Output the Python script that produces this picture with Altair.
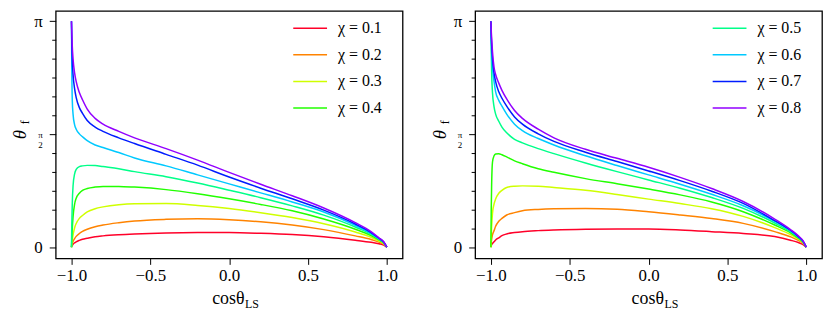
import math
import altair as alt
import pandas as pd

PI = math.pi

# cos(theta_LS) sample positions
cos_grid = [-1.0, -0.998, -0.995, -0.99, -0.98, -0.97, -0.95, -0.93, -0.9, -0.85, -0.8, -0.7,
            -0.6, -0.4, -0.2, 0.0, 0.2, 0.4, 0.6, 0.8, 0.9, 0.95, 0.98, 1.0]

chi_labels = ["χ = 0.1", "χ = 0.2", "χ = 0.3", "χ = 0.4",
              "χ = 0.5", "χ = 0.6", "χ = 0.7", "χ = 0.8"]
colors = ["#ff0029", "#ff8300", "#cfff00", "#22ff00",
          "#00ff89", "#00c9ff", "#001cff", "#9200ff"]

# Left panel: theta_f values (radians)
left_01 = [0, 0.015, 0.025, 0.04, 0.06, 0.075, 0.095, 0.11, 0.124, 0.145, 0.157, 0.173,
           0.184, 0.198, 0.203, 0.203, 0.193, 0.176, 0.145, 0.097, 0.068, 0.048, 0.03, 0]
left_02 = [0, 0.03, 0.05, 0.08, 0.12, 0.15, 0.19, 0.22, 0.25, 0.285, 0.308, 0.34,
           0.364, 0.387, 0.395, 0.382, 0.353, 0.308, 0.244, 0.157, 0.107, 0.07, 0.042, 0]
left_03 = [0, 0.05, 0.1, 0.17, 0.27, 0.33, 0.40, 0.44, 0.49, 0.535, 0.56, 0.59,
           0.603, 0.606, 0.58, 0.537, 0.479, 0.412, 0.327, 0.212, 0.138, 0.086, 0.05, 0]
left_04 = [0, 0.1, 0.25, 0.42, 0.6, 0.68, 0.75, 0.79, 0.815, 0.835, 0.845, 0.845,
           0.835, 0.80, 0.742, 0.672, 0.594, 0.505, 0.391, 0.249, 0.161, 0.10, 0.06, 0]
left_05 = [0, 0.3, 0.6, 0.85, 1.02, 1.08, 1.12, 1.13, 1.137, 1.135, 1.12, 1.09,
           1.05, 0.98, 0.892, 0.792, 0.688, 0.574, 0.446, 0.281, 0.180, 0.11, 0.065, 0]
left_06 = [3.1416, 2.5, 2.05, 1.85, 1.70, 1.64, 1.575, 1.535, 1.48, 1.42, 1.385, 1.315,
           1.24, 1.13, 1.005, 0.88, 0.755, 0.628, 0.488, 0.304, 0.193, 0.118, 0.07, 0]
left_07 = [3.1416, 2.85, 2.6, 2.4, 2.2, 2.08, 1.94, 1.86, 1.76, 1.67, 1.61, 1.52,
           1.44, 1.29, 1.14, 0.975, 0.82, 0.672, 0.515, 0.322, 0.203, 0.124, 0.072, 0]
left_08 = [3.1416, 3.0, 2.8, 2.62, 2.42, 2.3, 2.15, 2.05, 1.92, 1.79, 1.71, 1.61,
           1.52, 1.37, 1.21, 1.04, 0.875, 0.715, 0.545, 0.341, 0.217, 0.13, 0.075, 0]

# Right panel: theta_f values (radians)
right_01 = [0, 0.02, 0.035, 0.05, 0.075, 0.1, 0.13, 0.16, 0.184, 0.203, 0.216, 0.23,
            0.239, 0.25, 0.254, 0.253, 0.239, 0.216, 0.19, 0.147, 0.097, 0.064, 0.035, 0]
right_02 = [0, 0.06, 0.11, 0.17, 0.23, 0.29, 0.36, 0.40, 0.447, 0.48, 0.506, 0.525,
            0.534, 0.539, 0.528, 0.492, 0.447, 0.398, 0.331, 0.216, 0.145, 0.095, 0.055, 0]
right_03 = [0, 0.15, 0.3, 0.47, 0.6, 0.67, 0.75, 0.79, 0.83, 0.847, 0.852, 0.848,
            0.83, 0.79, 0.732, 0.668, 0.606, 0.535, 0.428, 0.272, 0.175, 0.11, 0.06, 0]
right_04 = [0, 0.5, 0.9, 1.18, 1.27, 1.295, 1.30, 1.285, 1.255, 1.20, 1.16, 1.09,
            1.04, 0.953, 0.882, 0.808, 0.727, 0.628, 0.493, 0.308, 0.20, 0.125, 0.07, 0]
right_05 = [3.1416, 2.75, 2.4, 2.15, 1.95, 1.85, 1.75, 1.67, 1.59, 1.50, 1.45, 1.37,
            1.30, 1.17, 1.05, 0.935, 0.82, 0.69, 0.539, 0.336, 0.215, 0.135, 0.075, 0]
right_06 = [3.1416, 2.9, 2.7, 2.5, 2.3, 2.16, 2.04, 1.96, 1.85, 1.71, 1.62, 1.51,
            1.42, 1.27, 1.135, 1.005, 0.875, 0.735, 0.576, 0.359, 0.228, 0.142, 0.08, 0]
right_07 = [3.1416, 2.95, 2.8, 2.62, 2.42, 2.3, 2.16, 2.07, 1.96, 1.81, 1.71, 1.575,
            1.47, 1.32, 1.19, 1.06, 0.925, 0.778, 0.608, 0.368, 0.235, 0.147, 0.082, 0]
right_08 = [3.1416, 3.02, 2.9, 2.72, 2.5, 2.4, 2.28, 2.18, 2.06, 1.90, 1.79, 1.64,
            1.52, 1.36, 1.235, 1.11, 0.97, 0.815, 0.635, 0.391, 0.245, 0.157, 0.088, 0]

x_ticks = [-1.0, -0.5, 0.0, 0.5, 1.0]
y_ticks = [k * PI / 12 for k in range(13)]

W, H = 349, 249
SERIF = "Liberation Serif"


def long_df(series):
    rows = []
    for lab, vals in zip(chi_labels, series):
        for c, v in zip(cos_grid, vals):
            rows.append({"c": c, "theta": v, "chi": lab})
    return pd.DataFrame(rows)


def txt(s, x, y, size, angle=0, align="center", baseline="middle", style="normal"):
    return alt.Chart(alt.Data(values=[{"k": 0}])).mark_text(
        text=s, font=SERIF, fontSize=size, fontStyle=style, angle=angle,
        align=align, baseline=baseline, color="black"
    ).encode(x=alt.value(x), y=alt.value(y))


MAJOR = "abs(datum.value / (PI / 2) - round(datum.value / (PI / 2))) < 0.001"


def panel(series, legend_vals):
    df = long_df(series)
    lines = alt.Chart(df).mark_line(strokeWidth=1.5, interpolate="monotone").encode(
        x=alt.X("c:Q",
                scale=alt.Scale(domain=[-1.1, 1.1], nice=False, zero=False),
                axis=alt.Axis(values=x_ticks, format=".1f", title=None, grid=False,
                              domain=False, tickSize=6, tickColor="black", tickWidth=1,
                              labelFont=SERIF, labelFontSize=17, labelColor="black",
                              labelPadding=3, labelFlush=False, labelOverlap=False)),
        y=alt.Y("theta:Q",
                scale=alt.Scale(domain=[-0.156, 3.284], nice=False, zero=False),
                axis=alt.Axis(values=y_ticks, title=None, grid=False, domain=False,
                              labelExpr="abs(datum.value) < 0.001 ? '0' : (abs(datum.value - PI/2) < 0.001 ? ['π', '2'] : (abs(datum.value - PI) < 0.001 ? 'π' : ''))",
                              labelFontSize={"expr": "abs(datum.value - PI/2) < 0.001 ? 9 : 17"},
                              labelLineHeight=10,
                              tickSize={"expr": MAJOR + " ? 6.5 : 4"},
                              tickColor="black", tickWidth=1,
                              labelFont=SERIF, labelColor="black",
                              labelPadding=7, labelFlush=False, labelOverlap=False)),
        color=alt.Color("chi:N",
                        scale=alt.Scale(domain=chi_labels, range=colors),
                        legend=alt.Legend(values=legend_vals, title=None, orient="none",
                                          legendX=238, legendY=-0.5, padding=0,
                                          symbolType="stroke", symbolSize=1156,
                                          symbolStrokeWidth=1.5, labelFont=SERIF,
                                          labelFontSize=16, labelColor="black",
                                          labelOffset=10, rowPadding=0.7)),
    )
    parts = [
        lines,
        txt("θ", -35.5, 124.5, 19, angle=270, style="italic"),
        txt("f", -30.5, 112, 12, angle=270),
        txt("cosθ", 190, 295, 18, align="right", baseline="alphabetic"),
        txt("LS", 190.5, 299, 12, align="left", baseline="alphabetic"),
    ]
    return alt.layer(*parts).properties(width=W, height=H)


left = panel([left_01, left_02, left_03, left_04, left_05, left_06, left_07, left_08],
             chi_labels[:4])
right = panel([right_01, right_02, right_03, right_04, right_05, right_06, right_07, right_08],
              chi_labels[4:])

chart = (
    alt.hconcat(left, right, spacing=26)
    .resolve_scale(color="independent")
    .resolve_legend(color="independent")
    .properties(padding={"left": 2, "top": 0, "right": 0, "bottom": 0}, background="white")
    .configure_view(stroke="black", strokeWidth=1.3)
)

chart.save("out.html", embed_options={"renderer": "svg", "actions": False})
